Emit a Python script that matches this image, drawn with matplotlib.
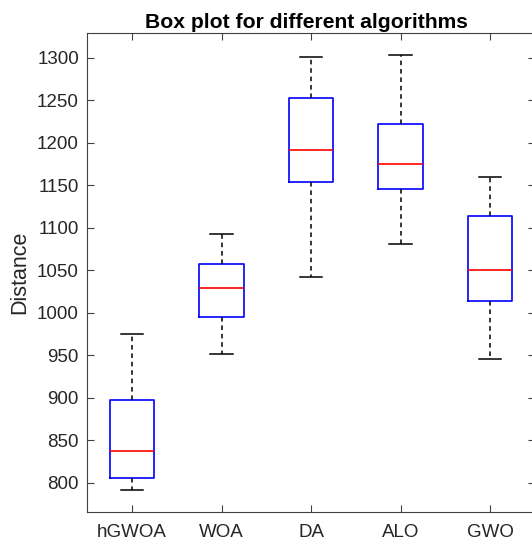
import matplotlib
matplotlib.use("Agg")
import matplotlib.pyplot as plt

plt.rcParams['font.family'] = ['Liberation Sans', 'DejaVu Sans']

algorithms = ["hGWOA", "WOA", "DA", "ALO", "GWO"]
whisker_low = [791.5, 951, 1042, 1081, 945]
q1 = [805.5, 995, 1153.5, 1145, 1014]
median = [837.5, 1029.5, 1192, 1174.5, 1050]
q3 = [897.5, 1057, 1252.5, 1221.5, 1113.5]
whisker_high = [974.5, 1093, 1300.5, 1303, 1160]
yticks = [800, 850, 900, 950, 1000, 1050, 1100, 1150, 1200, 1250, 1300]

W, H = 532, 543
fig = plt.figure(figsize=(W / 100, H / 100), dpi=100)
ax = fig.add_axes([87.25 / W, 31.3 / H, 447.5 / W, 478.4 / H])

stats = []
for i, name in enumerate(algorithms):
    stats.append(dict(label=name, whislo=whisker_low[i], q1=q1[i], med=median[i],
                      q3=q3[i], whishi=whisker_high[i], fliers=[]))

ax.bxp(stats, positions=range(1, len(algorithms) + 1), widths=0.5,
       showfliers=False, manage_ticks=False,
       boxprops=dict(color='#0000ff', linewidth=1.2),
       medianprops=dict(color='#ff0000', linewidth=1.2),
       whiskerprops=dict(color='black', linewidth=1.1, linestyle=(0, (3, 2.5))),
       capprops=dict(color='black', linewidth=1.1),
       capwidths=0.25)

ax.set_xlim(0.5, 5.5)
ax.set_ylim(765.8, 1328.8)
ax.set_xticks(range(1, len(algorithms) + 1))
ax.set_xticklabels(algorithms)
ax.set_yticks(yticks)
ax.tick_params(direction='in', top=True, right=True, length=5, width=0.8,
               labelsize=13.5, colors='#404040', labelcolor='#262626', pad=6)
ax.tick_params(axis='x', pad=9)
for s in ax.spines.values():
    s.set_color('#404040')
    s.set_linewidth(0.8)

ax.set_ylabel("Distance", fontsize=15.5, color='#262626', labelpad=5)
ax.set_title("Box plot for different algorithms", fontsize=15.2, fontweight='bold',
             pad=4, x=(306 - 87.25) / 447.5)

fig.savefig("out.png", dpi=100)
